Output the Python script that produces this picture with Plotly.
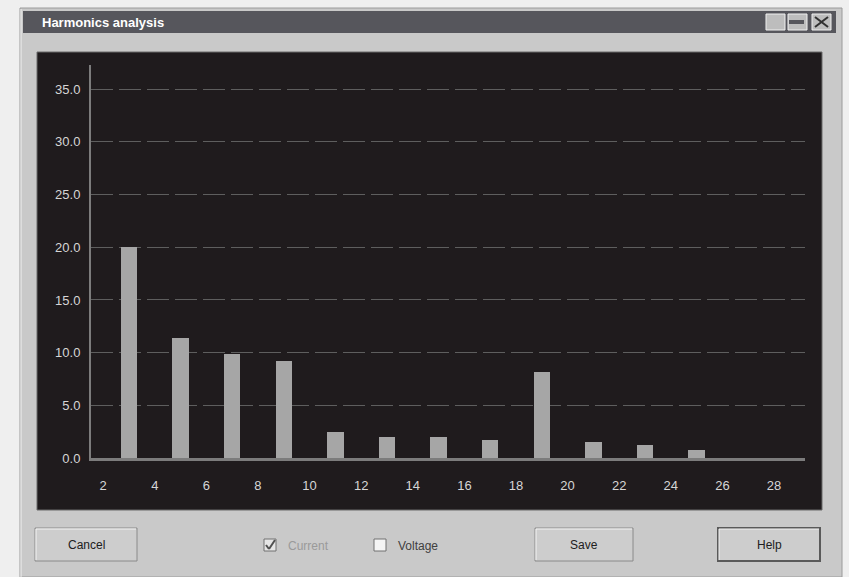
import plotly.graph_objects as go

# ---- data ----
harmonic_order = [3, 5, 7, 9, 11, 13, 15, 17, 19, 21, 23, 25]
harmonic_percent = [20.0, 11.4, 9.9, 9.2, 2.5, 2.0, 2.0, 1.7, 8.2, 1.5, 1.2, 0.75]
x_tick_values = [2, 4, 6, 8, 10, 12, 14, 16, 18, 20, 22, 24, 26, 28]
y_tick_values = [0, 5, 10, 15, 20, 25, 30, 35]
y_tick_labels = ["0.0", "5.0", "10.0", "15.0", "20.0", "25.0", "30.0", "35.0"]
window_title = "Harmonics analysis"

W, H = 849, 577
L, R, T, B = 91, 805, 65, 458  # plot area in pixels
PW, PH = R - L, B - T


def px(x):
    return (x - L) / PW


def py(y):
    return (B - y) / PH


def rect(x0, y0, x1, y1, fill, line=None, lw=0, layer="below"):
    return dict(type="rect", xref="paper", yref="paper",
                x0=px(x0), x1=px(x1), y0=py(y1), y1=py(y0),
                fillcolor=fill, line=dict(color=line or fill, width=lw), layer=layer)


def seg(x0, y0, x1, y1, color, lw=1, layer="below"):
    return dict(type="line", xref="paper", yref="paper",
                x0=px(x0), x1=px(x1), y0=py(y0), y1=py(y1),
                line=dict(color=color, width=lw), layer=layer)


def label(x, y, text, color="#000000", size=12, bold=False, xanchor="center"):
    return dict(xref="paper", yref="paper", x=px(x), y=py(y), text=(f"<b>{text}</b>" if bold else text),
                showarrow=False, xanchor=xanchor, yanchor="middle",
                font=dict(family="Liberation Sans, Arial, sans-serif", size=size, color=color))


shapes = []
annotations = []

# window frame
shapes.append(rect(20, 8, 842, 577, "#c9c9c9", "#9a9a9a", 1))
shapes.append(seg(21, 9, 21, 577, "#f2f2f2", 1))
# title bar
shapes.append(rect(23, 11, 836, 33, "#56565c"))
annotations.append(label(40, 22, window_title, "#ffffff", 13, True, "left"))
for bx in (766, 788, 812):
    shapes.append(rect(bx, 14, bx + 19, 30, "#bdbdbd", "#f0f0f0", 1))
shapes.append(rect(789, 20, 804, 24, "#56565c"))
shapes.append(seg(815, 17, 828, 27, "#303030", 2))
shapes.append(seg(815, 27, 828, 17, "#303030", 2))

# dark chart panel
shapes.append(rect(37, 52, 822, 510, "#1f1b1d", "#6a6a6a", 1))

# bottom buttons
def button(x0, x1, text, default=False):
    shapes.append(rect(x0, 528, x1, 561, "#cdcdcd", "#5a5a5a" if default else "#8a8a8a", 2 if default else 1))
    shapes.append(seg(x0 + 1, 529, x1 - 1, 529, "#f4f4f4", 1))
    shapes.append(seg(x0 + 1, 529, x0 + 1, 560, "#f4f4f4", 1))
    annotations.append(label((x0 + x1) / 2, 545, text, "#202020", 12))


button(35, 137, "Cancel")
button(535, 633, "Save")
button(718, 820, "Help", True)

# checkboxes
shapes.append(rect(264, 539, 276, 551, "#e6e6e6", "#707070", 1))
shapes.append(seg(266, 545, 269, 549, "#505050", 2))
shapes.append(seg(269, 549, 275, 540, "#505050", 2))
annotations.append(label(286, 546, "Current", "#9a9a9a", 12, False, "left"))
shapes.append(rect(374, 539, 386, 551, "#f4f4f4", "#707070", 1))
annotations.append(label(396, 546, "Voltage", "#404040", 12, False, "left"))

fig = go.Figure()
fig.add_trace(go.Bar(
    x=harmonic_order, y=harmonic_percent, width=0.64,
    marker=dict(color="#a6a6a6", line=dict(width=0)),
))

fig.update_layout(
    width=W, height=H,
    margin=dict(l=L, r=W - R, t=T, b=H - B, pad=0),
    paper_bgcolor="#efefef",
    plot_bgcolor="#1f1b1d",
    showlegend=False,
    shapes=shapes,
    annotations=annotations,
    font=dict(family="Liberation Sans, Arial, sans-serif", size=13, color="#d6d6d6"),
    xaxis=dict(
        range=[1.53, 29.2], tickvals=x_tick_values, ticktext=[str(v) for v in x_tick_values],
        showgrid=False, zeroline=False, showline=True, linecolor="#7c7c7c", linewidth=3,
        ticks="outside", ticklen=13, tickcolor="#1f1b1d",
        tickfont=dict(size=13, color="#d6d6d6"),
    ),
    yaxis=dict(
        range=[0, 37.3], tickvals=y_tick_values, ticktext=y_tick_labels,
        showgrid=True, gridcolor="#5e5e5e", gridwidth=1, griddash="22px,6px",
        zeroline=False, showline=True, linecolor="#7c7c7c", linewidth=2,
        ticks="outside", ticklen=6, tickcolor="#1f1b1d",
        tickfont=dict(size=13, color="#d6d6d6"),
    ),
    bargap=0,
)

fig.write_html("out.html", config={"displayModeBar": False},
               post_script="document.body.style.margin='0';document.body.style.overflow='hidden';")
